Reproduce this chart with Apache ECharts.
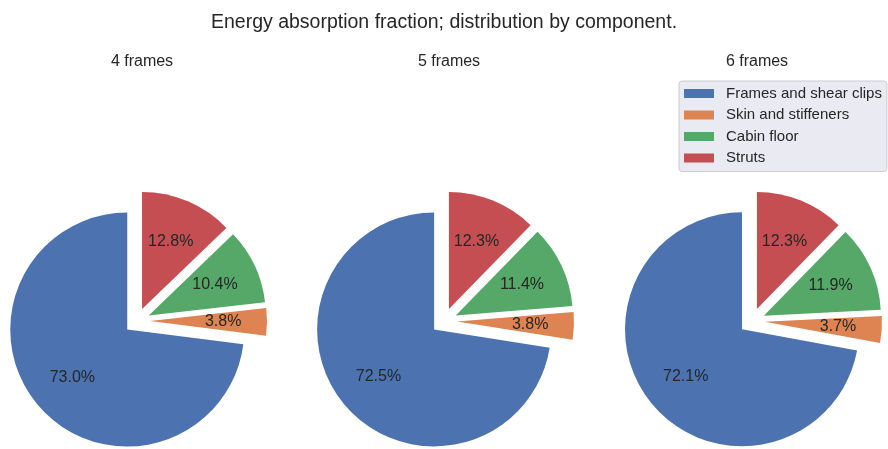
<!DOCTYPE html>
<html>
<head>
<meta charset="utf-8">
<script src="https://cdn.jsdelivr.net/npm/echarts@6/dist/echarts.min.js"></script>
<style>
  html, body { margin: 0; padding: 0; background: #fff; }
  #chart { width: 888px; height: 449px; }
</style>
</head>
<body>
<div id="chart"></div>
<script>
const categories = ['Frames and shear clips', 'Skin and stiffeners', 'Cabin floor', 'Struts'];
const panelTitles = ['4 frames', '5 frames', '6 frames'];
const frames4 = [73.0, 3.8, 10.4, 12.8];
const frames5 = [72.5, 3.8, 11.4, 12.3];
const frames6 = [72.1, 3.7, 11.9, 12.3];

const colors = ['#4C72B0', '#DD8452', '#55A868', '#C44E52'];
const fontFamily = '"Liberation Sans", Arial, sans-serif';
const centersX = [137, 444, 752];
const centerY = 321;
const radius = 117;
const explode = 13;

let chartDom = document.getElementById('chart');
let chart = echarts.init(chartDom);

let series = [];
[frames4, frames5, frames6].forEach((values, i) => {
    let data = values.map((v, j) => ({ name: categories[j], value: v, selected: true }));
    // wedges
    series.push({
        type: 'pie',
        center: [centersX[i], centerY],
        radius: [0, radius],
        startAngle: 90,
        clockwise: false,
        selectedMode: 'multiple',
        selectedOffset: explode,
        avoidLabelOverlap: false,
        label: { show: false },
        labelLine: { show: false },
        emphasis: { disabled: true },
        select: { itemStyle: { borderWidth: 0 } },
        itemStyle: { borderWidth: 0 },
        data: data
    });
    // transparent ring so inside labels sit at 0.6 of the radius
    series.push({
        type: 'pie',
        center: [centersX[i], centerY],
        radius: [radius * 0.2, radius],
        startAngle: 90,
        clockwise: false,
        selectedMode: 'multiple',
        selectedOffset: explode,
        avoidLabelOverlap: false,
        silent: true,
        itemStyle: { color: 'rgba(0,0,0,0)', borderWidth: 0 },
        select: { itemStyle: { color: 'rgba(0,0,0,0)', borderWidth: 0 } },
        emphasis: { disabled: true },
        labelLine: { show: false },
        label: {
            show: true,
            position: 'inside',
            color: '#262626',
            fontSize: 16,
            fontFamily: fontFamily,
            formatter: p => p.value.toFixed(1) + '%'
        },
        data: data.map(d => ({ name: d.name, value: d.value, selected: true }))
    });
});

let option = {
    animation: false,
    color: colors,
    title: [
        {
            text: 'Energy absorption fraction; distribution by component.',
            left: 'center',
            top: 8,
            textStyle: { fontSize: 19.5, fontWeight: 'normal', color: '#262626', fontFamily: fontFamily }
        }
    ].concat(panelTitles.map((t, i) => ({
        text: t,
        left: centersX[i],
        top: 49,
        textAlign: 'center',
        textStyle: { fontSize: 16, fontWeight: 'normal', color: '#262626', fontFamily: fontFamily }
    }))),
    legend: {
        data: categories,
        orient: 'vertical',
        left: 679,
        top: 81,
        icon: 'rect',
        itemWidth: 30,
        itemHeight: 9,
        itemGap: 6.5,
        padding: [5, 5, 6, 5],
        backgroundColor: '#EAEAF2',
        borderColor: '#cccccc',
        borderWidth: 1,
        borderRadius: 3,
        selectedMode: false,
        textStyle: { fontSize: 15, color: '#262626', fontFamily: fontFamily, padding: [0, 0, 0, 7] }
    },
    series: series
};

option && chart.setOption(option);
</script>
</body>
</html>
